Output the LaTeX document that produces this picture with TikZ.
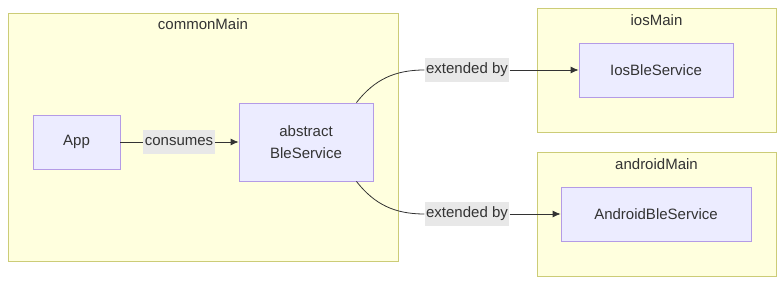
\documentclass[tikz,border=0pt]{standalone}
\usepackage{fontspec}
\setmainfont{Liberation Sans}
\usetikzlibrary{arrows.meta}
\definecolor{clusterfill}{HTML}{FFFFDE}
\definecolor{clusterline}{HTML}{CCCC77}
\definecolor{boxfill}{HTML}{ECECFF}
\definecolor{boxline}{HTML}{B49BE6}
\definecolor{labelfill}{HTML}{E8E8E8}
\definecolor{ink}{HTML}{333333}
\begin{document}
\begin{tikzpicture}[x=1pt,y=1pt]
        \tikzstyle{cluster}=[draw=clusterline, fill=clusterfill, line width=0.8pt, inner sep=0pt]
        \tikzstyle{title}=[text=ink, font=\fontsize{15}{18}\selectfont, inner sep=0pt]
        \tikzstyle{box}=[draw=boxline, fill=boxfill, line width=0.8pt, text=ink, font=\fontsize{15}{22}\selectfont, align=center, inner sep=0pt]
        \tikzstyle{edgelabel}=[fill=labelfill, text=ink, font=\fontsize{15}{18}\selectfont, minimum height=24pt, inner sep=1.5pt]
        \tikzstyle{link}=[draw=ink, line width=0.8pt]

        \useasboundingbox (0,0) rectangle (784,284);

        \node[cluster, minimum width=390pt, minimum height=248pt] (common) at (203,147) {};
        \node[cluster, minimum width=239pt, minimum height=124pt] (ios) at (656.5,214) {};
        \node[cluster, minimum width=239pt, minimum height=124pt] (android) at (656.5,70) {};

        \node[title] (commonT) at (203,260) {commonMain};
        \node[title] (iosT) at (656.5,264) {iosMain};
        \node[title] (androidT) at (656.5,120) {androidMain};

        \node[box, minimum width=87pt, minimum height=54pt] (app) at (76.5,142) {App};
        \node[box, minimum width=134pt, minimum height=78pt] (ble) at (306,142) {abstract\\BleService};
        \node[box, minimum width=154pt, minimum height=54pt] (iosble) at (656,214) {IosBleService};
        \node[box, minimum width=190pt, minimum height=54pt] (androidble) at (656,70) {AndroidBleService};

        \node[edgelabel] (consumes) at (179,142) {consumes};
        \node[edgelabel] (extIos) at (467,214) {extended by};
        \node[edgelabel] (extAndroid) at (467,70) {extended by};

        \draw[link] (app) -- (consumes);
        \draw[link, -{Latex[length=8pt,width=7pt]}] (consumes) -- (ble);
        \draw[link] (ble.38) to[out=52, in=180] (extIos.west);
        \draw[link, -{Latex[length=8pt,width=7pt]}] (extIos) -- (iosble);
        \draw[link] (ble.-38) to[out=-52, in=180] (extAndroid.west);
        \draw[link, -{Latex[length=8pt,width=7pt]}] (extAndroid) -- (androidble);
    \end{tikzpicture}
\end{document}
